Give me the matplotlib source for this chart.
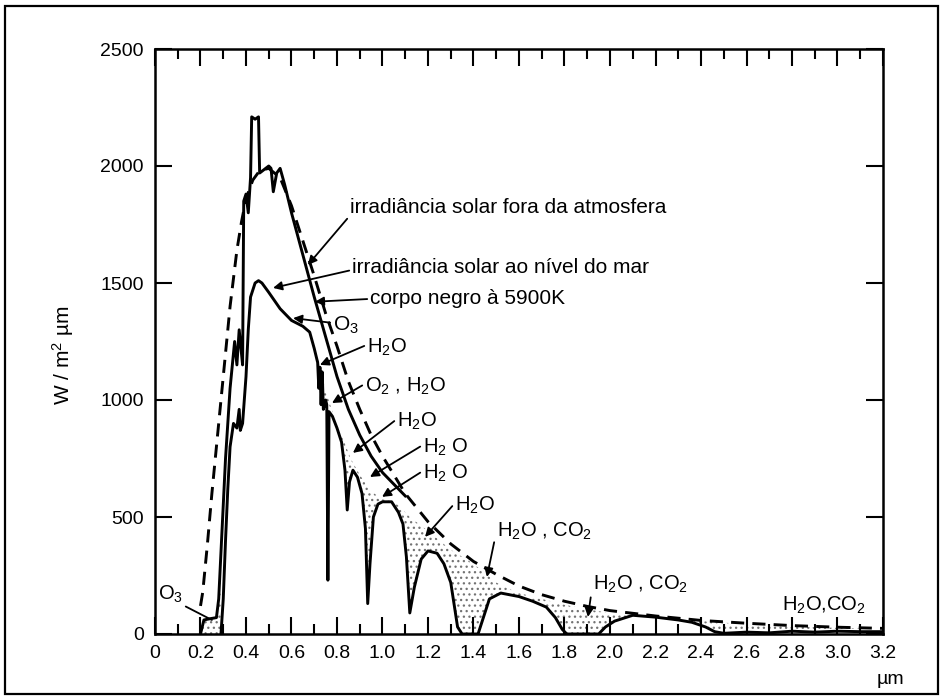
import numpy as np
import matplotlib
matplotlib.use('Agg')
import matplotlib.pyplot as plt
from matplotlib.patches import Rectangle

# Curvas (comprimento de onda em um, irradiancia em W/m2 um)
bb_x = [0.20, 0.21, 0.23, 0.25, 0.28, 0.30, 0.33, 0.36, 0.38, 0.40, 0.43, 0.46, 0.50,
        0.55, 0.60, 0.65, 0.70, 0.75, 0.80, 0.85, 0.90, 0.95, 1.00, 1.10, 1.20, 1.30,
        1.40, 1.50, 1.60, 1.70, 1.80, 1.90, 2.00, 2.20, 2.40, 2.60, 2.80, 3.00, 3.20]
bb_y = [120, 180, 380, 600, 900, 1100, 1400, 1640, 1760, 1860, 1940, 1980, 1990,
        1950, 1830, 1680, 1530, 1370, 1230, 1080, 960, 850, 760, 600, 480, 385,
        310, 255, 205, 168, 140, 118, 100, 77, 58, 46, 36, 29, 24]

# irradiancia solar fora da atmosfera
et_x = [0.20, 0.215, 0.24, 0.27, 0.28, 0.29, 0.30, 0.31, 0.32, 0.33, 0.34, 0.35, 0.36,
        0.37, 0.38, 0.385, 0.39, 0.40, 0.41, 0.42, 0.425, 0.44, 0.455, 0.46, 0.48, 0.50,
        0.51, 0.52, 0.535, 0.55, 0.57, 0.60, 0.65, 0.70, 0.75, 0.80, 0.85, 0.90, 0.95,
        1.00, 1.05, 1.10]
et_y = [0, 60, 65, 70, 150, 350, 550, 750, 900, 1050, 1150, 1250, 1150,
        1300, 1200, 1150, 1850, 1880, 1800, 1950, 2210, 2200, 2210, 1970, 1985, 2000,
        1990, 1890, 1970, 1990, 1920, 1800, 1620, 1440, 1270, 1100, 960, 850, 760,
        690, 640, 590]

# irradiancia solar ao nivel do mar
sl_x = [0.29, 0.30, 0.31, 0.32, 0.33, 0.345, 0.36, 0.37, 0.375, 0.385, 0.40, 0.41, 0.42,
        0.44, 0.455, 0.47, 0.50, 0.55, 0.60, 0.65, 0.68, 0.70, 0.715, 0.72, 0.725, 0.73,
        0.735, 0.74, 0.75, 0.755, 0.76, 0.765, 0.78, 0.80, 0.82, 0.835, 0.845, 0.855,
        0.87, 0.89, 0.91, 0.925, 0.935, 0.945, 0.96, 0.98, 1.00, 1.04, 1.07, 1.09,
        1.105, 1.12, 1.14, 1.17, 1.20, 1.24, 1.27, 1.30, 1.33, 1.35, 1.42, 1.44, 1.47,
        1.52, 1.60, 1.66, 1.72, 1.76, 1.79, 1.81, 1.95, 1.98, 2.02, 2.10, 2.20, 2.30,
        2.36, 2.42, 2.46, 2.50, 2.60, 2.70, 2.80, 2.90, 3.00, 3.10, 3.20]
sl_y = [0, 150, 400, 620, 800, 900, 880, 960, 870, 900, 1100, 1300, 1440,
        1500, 1510, 1500, 1460, 1390, 1340, 1315, 1290, 1220, 1160, 1050, 1140, 980,
        1120, 960, 1000, 980, 230, 950, 930, 880, 820, 700, 530, 650,
        700, 670, 600, 450, 130, 300, 500, 555, 565, 565, 520, 470,
        330, 90, 200, 320, 355, 345, 300, 220, 30, 0, 0, 60, 150,
        175, 160, 140, 115, 70, 20, 0, 0, 30, 55, 80, 72, 60,
        50, 30, 10, 3, 8, 5, 12, 8, 12, 10, 10]

# topo da area pontilhada (absorcao)
env_x = [0.70, 0.72, 0.75, 0.78, 0.82, 0.86, 0.90, 0.95, 1.00, 1.05, 1.08, 1.12, 1.16,
         1.20, 1.25, 1.30, 1.35, 1.40, 1.45, 1.50, 1.55, 1.60, 1.70, 1.80, 1.90, 2.00,
         2.10, 2.20, 2.40, 2.60, 2.80, 3.00, 3.20]
env_y = [1220, 1160, 1040, 950, 850, 750, 680, 610, 575, 565, 540, 500, 470,
         440, 400, 360, 330, 300, 260, 220, 195, 175, 150, 125, 105, 90,
         82, 75, 55, 42, 33, 26, 20]

x_ticks = [0, 0.2, 0.4, 0.6, 0.8, 1.0, 1.2, 1.4, 1.6, 1.8, 2.0, 2.2, 2.4, 2.6, 2.8, 3.0, 3.2]
x_tick_labels = ['0', '0.2', '0.4', '0.6', '0.8', '1.0', '1.2', '1.4', '1.6', '1.8',
                 '2.0', '2.2', '2.4', '2.6', '2.8', '3.0', '3.2']
y_ticks = [0, 500, 1000, 1500, 2000, 2500]

plt.rcParams['font.family'] = ['Liberation Sans', 'DejaVu Sans']
plt.rcParams['mathtext.fontset'] = 'custom'
plt.rcParams['mathtext.rm'] = 'Liberation Sans'
plt.rcParams['mathtext.it'] = 'Liberation Sans:italic'
plt.rcParams['hatch.color'] = '0.45'
plt.rcParams['hatch.linewidth'] = 0.9

fig = plt.figure(figsize=(9.45, 7.0), dpi=100)
ax = fig.add_axes([155 / 945, 66 / 700, 728 / 945, 585 / 700])

sl_x_a = np.array(sl_x)
sl_y_a = np.array(sl_y)
et_x_a = np.array(et_x)
et_y_a = np.array(et_y)

# area pontilhada entre envelope e curva ao nivel do mar
m = sl_x_a >= 0.70
ax.fill(np.concatenate([env_x, sl_x_a[m][::-1]]), np.concatenate([env_y, sl_y_a[m][::-1]]),
        facecolor='white', edgecolor='0.45', hatch='...', linewidth=0)
# faixa hachurada densa (O2, H2O) perto de 0.72-0.76
mh = (sl_x_a >= 0.70) & (sl_x_a <= 0.76)
me = np.array(env_x) <= 0.76
ax.fill(np.concatenate([np.array(env_x)[me], sl_x_a[mh][::-1]]),
        np.concatenate([np.array(env_y)[me], sl_y_a[mh][::-1]]),
        facecolor='none', edgecolor='0.15', hatch='||||', linewidth=0)
# caixinha O3 no ultravioleta
mo = et_x_a <= 0.29
ax.fill_between(et_x_a[mo], 0, et_y_a[mo], facecolor='white', edgecolor='0.45',
                hatch='...', linewidth=0)

ax.plot(bb_x, bb_y, color='k', lw=2.1, dashes=(4.5, 2.8))
ax.plot(et_x, et_y, color='k', lw=2.1)
ax.plot(sl_x, sl_y, color='k', lw=2.1)

ax.set_xlim(0, 3.2)
ax.set_ylim(0, 2500)
ax.set_xticks(x_ticks)
ax.set_xticklabels(x_tick_labels)
ax.set_xticks(np.arange(0.1, 3.2, 0.2), minor=True)
ax.set_yticks(y_ticks)
ax.tick_params(which='both', direction='in', top=True, right=True, width=1.5,
               labelsize=14, colors='k')
ax.tick_params(which='major', length=12)
ax.tick_params(which='minor', length=7)
ax.tick_params(axis='x', pad=8)
ax.tick_params(axis='y', pad=8)
for s in ax.spines.values():
    s.set_linewidth(1.8)

arrow = dict(arrowstyle='-|>', color='k', lw=1.3, shrinkA=0, shrinkB=0, mutation_scale=13)
line = dict(arrowstyle='-', color='k', lw=1.3, shrinkA=0, shrinkB=0)

ax.annotate('irradiância solar fora da atmosfera', xy=(0.672, 1577), xytext=(0.857, 1821),
            fontsize=15, va='center', ha='left',
            arrowprops=dict(arrow, relpos=(0, 0.1)))
ax.annotate('irradiância solar ao nível do mar', xy=(0.519, 1479), xytext=(0.866, 1568),
            fontsize=15, va='center', ha='left',
            arrowprops=dict(arrow, relpos=(0, 0.35)))
ax.annotate('corpo negro à 5900K', xy=(0.703, 1420), xytext=(0.945, 1432),
            fontsize=15, va='center', ha='left',
            arrowprops=dict(arrow, relpos=(0, 0.5)))
ax.annotate('O$_3$', xy=(0.607, 1350), xytext=(0.782, 1320),
            fontsize=15, va='center', ha='left',
            arrowprops=dict(arrow, relpos=(0, 0.6)))

gases = [
    ('H$_2$O', (0.725, 1150), (0.932, 1227)),
    ('O$_2$ , H$_2$O', (0.778, 987), (0.923, 1060)),
    ('H$_2$O', (0.870, 774), (1.064, 910)),
    ('H$_2$ O', (0.945, 671), (1.178, 799)),
    ('H$_2$ O', (0.998, 586), (1.178, 688)),
    ('H$_2$O', (1.187, 415), (1.319, 551)),
    ('H$_2$O , CO$_2$', (1.459, 244), (1.503, 440)),
    ('H$_2$O , CO$_2$', (1.903, 73), (1.925, 214)),
]
for txt, tip, pos in gases:
    ax.annotate(txt, xy=tip, xytext=pos, fontsize=14.5, va='center', ha='left',
                arrowprops=dict(arrow, relpos=(0, 0.6)))

ax.text(2.756, 124, 'H$_2$O,CO$_2$', fontsize=14.5, va='center', ha='left')
ax.annotate('O$_3$', xy=(0.25, 60), xytext=(0.013, 171), fontsize=14.5, va='center',
            ha='left', arrowprops=dict(line, relpos=(0.8, 0.1)))

fig.text(63 / 945, 1 - 355 / 700, 'W / m$^2$ µm', rotation=90, ha='center', va='center',
         fontsize=15)
fig.text(890 / 945, 1 - 680 / 700, 'µm', ha='center', va='center', fontsize=14)

fig.patches.append(Rectangle((5 / 945, 6 / 700), 933 / 945, 688 / 700, transform=fig.transFigure,
                             fill=False, edgecolor='k', linewidth=1.6))

fig.savefig('out.png', dpi=100)
